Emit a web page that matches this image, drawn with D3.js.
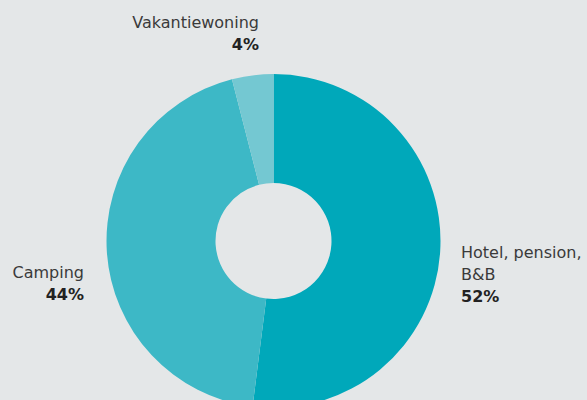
<!DOCTYPE html>
<html>
<head>
<meta charset="utf-8">
<script src="https://cdn.jsdelivr.net/npm/d3@7"></script>
<style>
  body { margin: 0; background: #e4e7e8; }
  svg { display: block; }
  text { font-family: "DejaVu Sans", "Liberation Sans", Arial, sans-serif; font-size: 16px; }
</style>
</head>
<body>
<div id="chart"></div>
<script>
// categories + shares (percent), clockwise from 12 o'clock
const categories = ["Hotel, pension, B&B", "Camping", "Vakantiewoning"];
const values = [52, 44, 4];
const colors = ["#00a8ba", "#3db8c6", "#74c8d2"];
// label lines per slice
const labelLines = [["Hotel, pension,", "B&B"], ["Camping"], ["Vakantiewoning"]];

const width = 587, height = 400;
const cx = 273.5, cy = 241;
const outerR = 167, innerR = 58;

const svg = d3.select("#chart").append("svg")
    .attr("width", width)
    .attr("height", height);

svg.append("rect")
   .attr("width", width)
   .attr("height", height)
   .attr("fill", "#e4e7e8");

const pie = d3.pie().sort(null).value(d => d);
const arcs = pie(values);
const arc = d3.arc().innerRadius(innerR).outerRadius(outerR);

const g = svg.append("g").attr("transform", `translate(${cx},${cy})`);

g.selectAll("path")
 .data(arcs)
 .enter()
 .append("path")
 .attr("d", arc)
 .attr("fill", (d, i) => colors[i]);

// label positions (anchor x, first baseline y, alignment)
const labelPos = [
    {x: 461, y: 258, anchor: "start"},
    {x: 84, y: 278, anchor: "end"},
    {x: 259, y: 28, anchor: "end"}
];

const lineH = 22;
labelPos.forEach(function(p, i) {
    const t = svg.append("text")
        .attr("x", p.x)
        .attr("y", p.y)
        .attr("text-anchor", p.anchor);
    labelLines[i].forEach(function(line, j) {
        t.append("tspan")
         .attr("x", p.x)
         .attr("dy", j === 0 ? 0 : lineH)
         .attr("fill", "#3a3a3a")
         .text(line);
    });
    t.append("tspan")
     .attr("x", p.x)
     .attr("dy", lineH)
     .attr("fill", "#222")
     .attr("font-weight", "bold")
     .text(values[i] + "%");
});
</script>
</body>
</html>
